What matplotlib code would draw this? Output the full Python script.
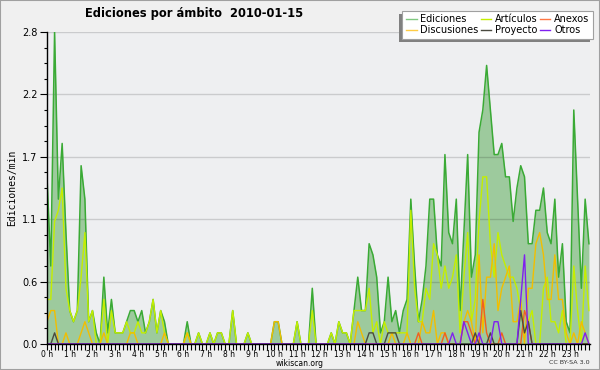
import numpy as np
import matplotlib
matplotlib.use('Agg')
import matplotlib.pyplot as plt
from matplotlib.lines import Line2D
from matplotlib.patches import Rectangle
from matplotlib.transforms import IdentityTransform

# edits per minute, one value per 10 minute bin (00:00 .. 23:50)
ediciones = [
    1.5, 0.7, 2.8, 1.3, 1.8, 1.0, 0.3, 0.2, 0.3, 1.6, 1.3, 0.2,   # 0-2 h
    0.3, 0.1, 0.0, 0.6, 0.1, 0.4, 0.1, 0.1, 0.1, 0.2, 0.3, 0.3,   # 2-4 h
    0.2, 0.3, 0.1, 0.2, 0.4, 0.1, 0.3, 0.2, 0.0, 0.0, 0.0, 0.0,   # 4-6 h
    0.0, 0.2, 0.0, 0.0, 0.1, 0.0, 0.0, 0.1, 0.0, 0.1, 0.1, 0.0,   # 6-8 h
    0.0, 0.3, 0.0, 0.0, 0.0, 0.1, 0.0, 0.0, 0.0, 0.0, 0.0, 0.0,   # 8-10 h
    0.2, 0.2, 0.0, 0.0, 0.0, 0.0, 0.2, 0.0, 0.0, 0.0, 0.5, 0.0,   # 10-12 h
    0.0, 0.0, 0.0, 0.1, 0.0, 0.2, 0.1, 0.1, 0.0, 0.3, 0.6, 0.3,   # 12-14 h
    0.3, 0.9, 0.8, 0.6, 0.1, 0.2, 0.6, 0.2, 0.3, 0.1, 0.3, 0.4,   # 14-16 h
    1.3, 0.7, 0.2, 0.4, 0.7, 1.3, 1.3, 0.8, 0.7, 1.7, 1.0, 0.9,   # 16-18 h
    1.3, 0.3, 1.0, 1.7, 0.6, 0.8, 1.9, 2.1, 2.5, 2.1, 1.7, 1.7,   # 18-20 h
    1.8, 1.5, 1.5, 1.1, 1.4, 1.6, 1.5, 0.9, 0.9, 1.2, 1.2, 1.4,   # 20-22 h
    1.0, 0.9, 1.3, 0.6, 0.9, 0.2, 0.1, 2.1, 1.3, 0.5, 1.3, 0.9,   # 22-24 h
]
articulos = [
    0.4, 0.4, 1.1, 1.2, 1.4, 0.5, 0.3, 0.2, 0.3, 0.6, 1.0, 0.2,
    0.3, 0.0, 0.0, 0.4, 0.0, 0.3, 0.1, 0.1, 0.1, 0.2, 0.1, 0.1,
    0.2, 0.1, 0.1, 0.2, 0.4, 0.1, 0.3, 0.1, 0.0, 0.0, 0.0, 0.0,
    0.0, 0.1, 0.0, 0.0, 0.1, 0.0, 0.0, 0.1, 0.0, 0.1, 0.1, 0.0,
    0.0, 0.3, 0.0, 0.0, 0.0, 0.1, 0.0, 0.0, 0.0, 0.0, 0.0, 0.0,
    0.0, 0.0, 0.0, 0.0, 0.0, 0.0, 0.2, 0.0, 0.0, 0.0, 0.3, 0.0,
    0.0, 0.0, 0.0, 0.1, 0.0, 0.2, 0.1, 0.1, 0.0, 0.3, 0.3, 0.3,
    0.3, 0.5, 0.1, 0.2, 0.0, 0.2, 0.1, 0.1, 0.1, 0.1, 0.1, 0.1,
    1.2, 0.5, 0.2, 0.2, 0.5, 0.4, 0.9, 0.8, 0.5, 0.7, 0.5, 0.6,
    0.8, 0.1, 0.6, 1.0, 0.2, 0.4, 1.1, 1.5, 1.5, 0.9, 0.6, 1.0,
    0.8, 0.7, 0.6, 0.6, 0.5, 0.3, 0.1, 0.2, 0.3, 0.0, 0.0, 0.5,
    0.6, 0.2, 0.2, 0.1, 0.3, 0.0, 0.0, 0.7, 0.3, 0.0, 0.7, 0.3,
]
discusiones = [
    0.2, 0.3, 0.3, 0.0, 0.0, 0.1, 0.0, 0.0, 0.0, 0.1, 0.2, 0.1,
    0.0, 0.0, 0.0, 0.1, 0.0, 0.0, 0.0, 0.0, 0.0, 0.0, 0.1, 0.1,
    0.0, 0.0, 0.0, 0.0, 0.0, 0.0, 0.0, 0.1, 0.0, 0.0, 0.0, 0.0,
    0.0, 0.1, 0.0, 0.0, 0.0, 0.0, 0.0, 0.0, 0.0, 0.0, 0.0, 0.0,
    0.0, 0.0, 0.0, 0.0, 0.0, 0.0, 0.0, 0.0, 0.0, 0.0, 0.0, 0.0,
    0.2, 0.2, 0.0, 0.0, 0.0, 0.0, 0.0, 0.0, 0.0, 0.0, 0.0, 0.0,
    0.0, 0.0, 0.0, 0.0, 0.0, 0.0, 0.0, 0.0, 0.0, 0.0, 0.2, 0.1,
    0.0, 0.0, 0.0, 0.0, 0.0, 0.0, 0.0, 0.1, 0.0, 0.0, 0.0, 0.1,
    0.0, 0.0, 0.0, 0.2, 0.1, 0.1, 0.3, 0.0, 0.1, 0.1, 0.0, 0.0,
    0.0, 0.0, 0.2, 0.3, 0.2, 0.0, 0.8, 0.1, 0.6, 0.6, 0.9, 0.3,
    0.5, 0.6, 0.7, 0.2, 0.2, 0.4, 0.0, 0.5, 0.5, 0.9, 1.0, 0.8,
    0.4, 0.4, 0.8, 0.4, 0.4, 0.1, 0.0, 0.1, 0.0, 0.2, 0.1, 0.0,
]
anexos = [0.0] * 96 + [
    0.0, 0.0, 0.1, 0.0, 0.0, 0.0, 0.0, 0.0, 0.0, 0.1, 0.0, 0.0,
    0.0, 0.0, 0.2, 0.2, 0.1, 0.0, 0.0, 0.4, 0.1, 0.0, 0.0, 0.0,
    0.1, 0.0, 0.0, 0.0, 0.0, 0.0, 0.3, 0.2, 0.0, 0.0, 0.0, 0.0,
    0.0, 0.0, 0.0, 0.0, 0.0, 0.0, 0.0, 0.0, 0.0, 0.0, 0.0, 0.0,
]
proyecto = [0.0, 0.0, 0.1] + [0.0] * 81 + [
    0.0, 0.1, 0.1, 0.0, 0.0, 0.0, 0.1, 0.1, 0.1, 0.0, 0.0, 0.0,
    0.0, 0.0, 0.0, 0.0, 0.0, 0.0, 0.0, 0.0, 0.0, 0.0, 0.0, 0.0,
    0.0, 0.0, 0.0, 0.0, 0.0, 0.1, 0.0, 0.0, 0.0, 0.1, 0.0, 0.0,
    0.0, 0.0, 0.0, 0.0, 0.0, 0.3, 0.1, 0.2, 0.0, 0.0, 0.0, 0.0,
    0.0, 0.0, 0.0, 0.0, 0.0, 0.0, 0.0, 0.0, 0.0, 0.0, 0.0, 0.0,
]
otros = [0.0] * 96 + [
    0.0, 0.0, 0.0, 0.0, 0.0, 0.0, 0.0, 0.0, 0.0, 0.0, 0.0, 0.1,
    0.0, 0.0, 0.2, 0.1, 0.0, 0.0, 0.1, 0.0, 0.0, 0.0, 0.2, 0.2,
    0.0, 0.0, 0.0, 0.0, 0.0, 0.4, 0.8, 0.0, 0.0, 0.0, 0.0, 0.0,
    0.0, 0.0, 0.0, 0.0, 0.0, 0.0, 0.0, 0.0, 0.0, 0.0, 0.1, 0.0,
]

hours = list(range(24))
hour_labels = ['%d h' % h for h in hours]
yticks = [0.0, 0.56, 1.12, 1.68, 2.24, 2.8]

# x in hours, one bin every 10 minutes
x = np.arange(len(ediciones)) / 6.0

c_fill = '#9dca9d'
c_edic = '#3aaa35'
c_art = '#c4ee00'
c_disc = '#f2be00'
c_anex = '#f06020'
c_proy = '#4a4a40'
c_otros = '#8020f0'

fig = plt.figure(figsize=(6, 3.7), dpi=100, facecolor='#f0f0f0')
ax = fig.add_axes([47 / 600, 26 / 370, 543 / 600, 312 / 370])
ax.set_facecolor('#eeeff1')

ax.fill_between(x, ediciones, color=c_fill, lw=0, zorder=1)
ax.plot(x, ediciones, color=c_edic, lw=1.1, zorder=3)
ax.plot(x, articulos, color=c_art, lw=1, zorder=4)
ax.plot(x, discusiones, color=c_disc, lw=1, zorder=5)
ax.plot(x, anexos, color=c_anex, lw=1, zorder=6)
ax.plot(x, proyecto, color=c_proy, lw=1, zorder=6)
ax.plot(x, otros, color=c_otros, lw=1, zorder=7)

ax.set_xlim(0, 23.88)
ax.set_ylim(0, 2.8)

# axes, ticks and grid
for s in ['top', 'right']:
    ax.spines[s].set_visible(False)
for s in ['left', 'bottom']:
    ax.spines[s].set_linewidth(1)
    ax.spines[s].set_zorder(10)

ax.set_xticks(hours)
ax.set_xticklabels(hour_labels)
ax.set_xticks(x, minor=True)
ax.tick_params(axis='x', which='both', length=4, width=0.8, pad=0.5, labelsize=5.5, direction='out')

ax.set_yticks(yticks)
ax.set_yticklabels(['%.1f' % v for v in yticks])
ax.set_yticks(np.arange(0, 2.81, 0.14), minor=True)
ax.tick_params(axis='y', which='major', length=5, width=0.8, pad=2, labelsize=7)
ax.tick_params(axis='y', which='minor', length=2.5, width=0.8)

ax.set_axisbelow(False)
ax.yaxis.grid(True, color='black', alpha=0.15, lw=1)
ax.xaxis.grid(False)

# texts
fig.text(85 / 600, 1 - 14 / 370, 'Ediciones por ámbito  2010-01-15',
         fontsize=8.3, fontweight='bold', ha='left', va='center')
fig.text(12 / 600, 1 - 188 / 370, 'Ediciones/min', rotation=90,
         family='DejaVu Sans Mono', fontsize=7, ha='center', va='center')
fig.text(300 / 600, 1 - 363.5 / 370, 'wikiscan.org', fontsize=5.5, ha='center', va='center')
fig.text(590 / 600, 1 - 363 / 370, 'CC BY-SA 3.0', fontsize=4.6, ha='right', va='center',
         color='#333333')

# legend (column order fills top to bottom)
handles = [
    Line2D([], [], color='#80c880', lw=1),
    Line2D([], [], color='#ffcc44', lw=1),
    Line2D([], [], color=c_art, lw=1),
    Line2D([], [], color=c_proy, lw=1),
    Line2D([], [], color='#ff7744', lw=1),
    Line2D([], [], color=c_otros, lw=1),
]
labels = ['Ediciones', 'Discusiones', 'Artículos', 'Proyecto', 'Anexos', 'Otros']
leg = fig.legend(handles, labels, ncol=3, loc='upper right',
                 bbox_to_anchor=(593 / 600, 1 - 11 / 370), fontsize=7,
                 frameon=True, fancybox=False, edgecolor='#a0a0a0', framealpha=1,
                 handlelength=1.1, handletextpad=0.4, columnspacing=0.2,
                 labelspacing=0.1, borderpad=0.35, borderaxespad=0)
leg.get_frame().set_linewidth(0.8)

# shadow to the lower left of the legend box
fig.canvas.draw()
bb = leg.get_window_extent()
shadow = Rectangle((bb.x0 - 3, bb.y0 - 3), bb.width, bb.height, transform=IdentityTransform(),
                   facecolor='#808080', edgecolor='none', zorder=leg.get_zorder() - 0.5)
fig.add_artist(shadow)

# outer border
fig.add_artist(Rectangle((0, 0), 1, 1, transform=fig.transFigure, fill=False,
                         edgecolor='#a0a0a0', lw=1.5))

fig.savefig('out.png', dpi=100, facecolor=fig.get_facecolor())
